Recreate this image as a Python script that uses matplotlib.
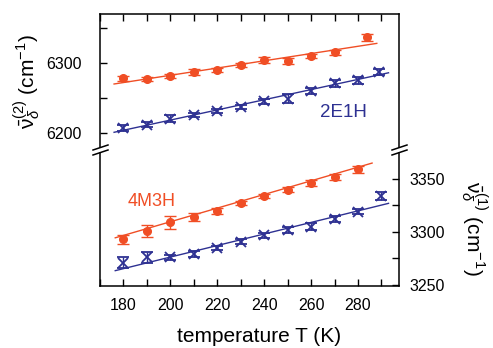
import matplotlib
matplotlib.use("Agg")
import matplotlib.pyplot as plt
from matplotlib.lines import Line2D
from matplotlib.ticker import MultipleLocator

plt.rcParams["font.family"] = ["Liberation Sans", "DejaVu Sans"]
plt.rcParams["mathtext.fontset"] = "custom"
plt.rcParams["mathtext.rm"] = "Liberation Sans"
plt.rcParams["mathtext.it"] = "Liberation Sans:italic"

ORANGE = "#f04e25"
BLUE = "#2e3192"

# upper panel: nu(2), left axis
T_up_o = [180, 190, 200, 210, 220, 230, 240, 250, 260, 270, 284]
v_up_o = [6278, 6277, 6281, 6287, 6290, 6297, 6304, 6303, 6310, 6315, 6337]
e_up_o = [4, 3, 3, 4, 3, 3, 4, 4, 3, 3, 5]
T_up_b = [180, 190, 200, 210, 220, 230, 240, 250, 260, 270, 280, 289]
v_up_b = [6207, 6212, 6220, 6226, 6231, 6237, 6245, 6249, 6260, 6271, 6275, 6287]
e_up_b = [4, 3, 5, 3, 3, 3, 4, 6, 4, 5, 5, 4]
fit_up_o_T, fit_up_o_v = [176, 288], [6270, 6328]
fit_up_b_T, fit_up_b_v = [176, 293], [6201, 6286]

# lower panel: nu(1), right axis
T_lo_o = [180, 190, 200, 210, 220, 230, 240, 250, 260, 270, 280]
v_lo_o = [3293, 3301, 3309, 3314, 3320, 3327, 3334, 3340, 3346, 3352, 3359]
e_lo_o = [4, 6, 6.5, 3.5, 3, 2, 2, 2, 3, 3, 3]
T_lo_b = [180, 190, 200, 210, 220, 230, 240, 250, 260, 270, 280, 290]
v_lo_b = [3271, 3276, 3276, 3279, 3285, 3291, 3297, 3302, 3305, 3312, 3319, 3334]
e_lo_b = [5, 5.5, 2.5, 3, 2, 2.5, 2.5, 2.5, 3.5, 3, 2.5, 3.5]
fit_lo_o_T, fit_lo_o_v = [176.5, 286], [3294.5, 3365]
fit_lo_b_T, fit_lo_b_v = [176.5, 293], [3263.5, 3327]

W, H = 493, 348


def fx(px):
    return px / W


def fy(py):
    return 1 - py / H


fig = plt.figure(figsize=(W / 100, H / 100), dpi=100)
ax_up = fig.add_axes([fx(100), fy(147), fx(399.3) - fx(100), fy(13.7) - fy(147)])
ax_lo = fig.add_axes([fx(100), fy(285.5), fx(399.3) - fx(100), fy(153) - fy(285.5)])

for ax in (ax_up, ax_lo):
    ax.set_xlim(170, 297.6)
    ax.xaxis.set_major_locator(MultipleLocator(20))
    ax.xaxis.set_minor_locator(MultipleLocator(10))
    for s in ax.spines.values():
        s.set_linewidth(1.1)

ebkw = dict(capsize=4.5, elinewidth=1.0, capthick=1.0, linestyle="none")
ax_up.errorbar(T_up_o, v_up_o, yerr=e_up_o, color=ORANGE, marker="o", ms=5.5, **ebkw)
ax_up.errorbar(T_up_b, v_up_b, yerr=e_up_b, color=BLUE, marker="x", ms=6.5, mew=1.3, **ebkw)
ax_up.plot(fit_up_o_T, fit_up_o_v, color=ORANGE, lw=1)
ax_up.plot(fit_up_b_T, fit_up_b_v, color=BLUE, lw=1)

ax_lo.errorbar(T_lo_o, v_lo_o, yerr=e_lo_o, color=ORANGE, marker="o", ms=5.5, **ebkw)
ax_lo.errorbar(T_lo_b, v_lo_b, yerr=e_lo_b, color=BLUE, marker="x", ms=6.5, mew=1.3, **ebkw)
ax_lo.plot(fit_lo_o_T, fit_lo_o_v, color=ORANGE, lw=1)
ax_lo.plot(fit_lo_b_T, fit_lo_b_v, color=BLUE, lw=1)

# upper axes
ax_up.set_ylim(6180, 6370.4)
ax_up.yaxis.set_major_locator(MultipleLocator(100))
ax_up.yaxis.set_minor_locator(MultipleLocator(50))
ax_up.spines["bottom"].set_visible(False)
ax_up.tick_params(axis="x", which="both", direction="in", top=True, bottom=False,
                  labelbottom=False, labeltop=False, length=5, width=1)
ax_up.tick_params(axis="y", which="both", direction="in", left=True, right=False,
                  labelsize=11.5, pad=13, width=1, length=5)
ax_up.set_ylabel(r"$\bar{\mathrm{\nu}}_{\delta}^{(2)}$ (cm$^{-1}$)", fontsize=15)
ax_up.yaxis.set_label_coords(-0.19, 0.49)
ax_up.text(273.8, 6228.6, "2E1H", color=BLUE, fontsize=13.5, ha="center", va="center")

# lower axes
ax_lo.set_ylim(3249.5, 3374.5)
ax_lo.yaxis.set_major_locator(MultipleLocator(50))
ax_lo.yaxis.set_minor_locator(MultipleLocator(25))
ax_lo.spines["top"].set_visible(False)
ax_lo.yaxis.set_label_position("right")
ax_lo.yaxis.tick_right()
ax_lo.tick_params(axis="x", which="both", direction="in", top=False, bottom=True,
                  labelsize=11.5, pad=9, width=1, length=5)
ax_lo.tick_params(axis="y", which="both", direction="in", left=False, right=True,
                  labelsize=11.5, pad=7, width=1, length=5)
ax_lo.set_ylabel(r"$\bar{\mathrm{\nu}}_{\delta}^{(1)}$ (cm$^{-1}$)", fontsize=15,
                 rotation=-90, va="center")
ax_lo.yaxis.set_label_coords(1.25, 0.43)
ax_lo.text(192.0, 3328.3, "4M3H", color=ORANGE, fontsize=13, ha="center", va="center")

fig.text(fx(259.5), fy(337), "temperature T (K)", fontsize=15, ha="center", va="center")

# axis break marks
for x0, x1 in [(93, 108), (392, 407)]:
    for yc in (147.5, 152.5):
        fig.add_artist(Line2D([fx(x0), fx(x1)], [fy(yc + 2.5), fy(yc - 2.5)],
                              color="black", lw=1.1))

fig.savefig("out.png", dpi=100)
